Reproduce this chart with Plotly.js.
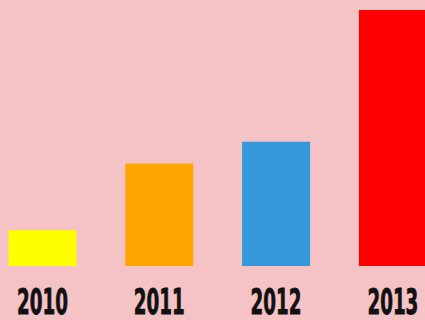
<!DOCTYPE html>
<html><head><meta charset="utf-8">
<script src="https://cdn.plot.ly/plotly-3.0.1.min.js"></script>
<style>html,body{margin:0;padding:0;background:#F5C3C5;}#c{width:425px;height:320px;}</style>
</head><body><div id="c"></div>
<script>
const years = ["2010", "2011", "2012", "2013"];
const values = [14, 40, 48.5, 100];
const colors = ["#FFFF00", "#FFA500", "#3498DB", "#FF0000"];

Plotly.newPlot("c", [{
  type: "bar", x: years, y: values,
  marker: {color: colors, line: {width: 0}},
  width: 0.582, hoverinfo: "none"
}], {
  width: 425, height: 320,
  margin: {l: 0, r: 0, t: 0, b: 54, pad: 0},
  paper_bgcolor: "#F5C3C5", plot_bgcolor: "#F5C3C5",
  showlegend: false,
  xaxis: {type: "category", range: [-0.364, 3.275], showgrid: false, zeroline: false, showline: false,
    ticks: "", ticklabelstandoff: 12,
    tickfont: {family: "DejaVu Sans Condensed, DejaVu Sans", size: 35, color: "#111111", weight: "bold"}},
  yaxis: {range: [0, 103.9], showgrid: false, zeroline: false, showline: false, showticklabels: false, ticks: ""}
}, {staticPlot: true, displayModeBar: false}).then(function(gd){
  const texts = gd.querySelectorAll(".xtick text");
  if (!texts.length) return;
  const s = 51 / texts[0].getBBox().width;
  texts.forEach(function(t){
    const b = t.getBBox();
    const cx = b.x + b.width / 2;
    const tr = t.getAttribute("transform") || "";
    t.setAttribute("transform", tr + " translate(" + cx + ",0) scale(" + s + ",1) translate(" + (-cx) + ",0)");
    t.style.stroke = "#111111";
    t.style.strokeWidth = "0.8px";
  });
});
</script></body></html>
